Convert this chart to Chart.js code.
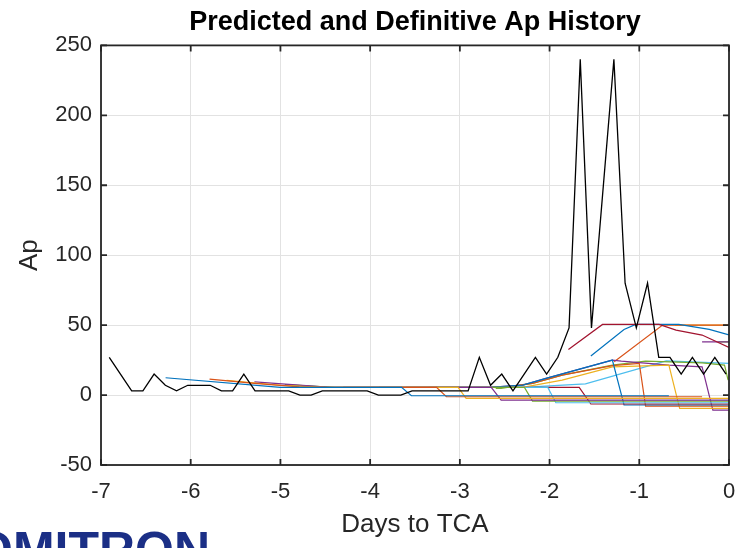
<!DOCTYPE html>
<html lang="en">
<head>
<meta charset="UTF-8">
<title>Predicted and Definitive Ap History</title>
<script src="https://cdn.jsdelivr.net/npm/chart.js@4.4.1/dist/chart.umd.min.js"></script>
<style>
  html, body { margin: 0; padding: 0; background: #fff; }
  #wrap { width: 740px; height: 548px; }
</style>
</head>
<body>
<div id="wrap"><canvas id="apChart" width="740" height="548"></canvas></div>
<script>
// definitive Ap, 3-hourly, first sample at -6.91 days
var defStart = -6.908;
var defStep = 0.125;
var defAp = [27, 15, 3, 3, 15, 7, 3, 7, 7, 7,
             3, 3, 15, 3, 3, 3, 3, 0, 0, 3,
             3, 3, 3, 3, 0, 0, 0, 3, 3, 3,
             3, 3, 3, 27, 7, 15, 3, 15, 27, 15,
             27, 48, 240, 48, 144, 240, 80, 48, 80, 27,
             27, 15, 27, 15, 27, 15];

// predicted Ap runs, [days to TCA, Ap] vertices
var predBlue1 = [[-6.28, 12.4], [-5.0, 5.5], [-3.65, 5.5], [-3.54, -0.5], [-0.67, -0.5]];
var predOrange1 = [[-5.79, 11.4], [-5.29, 8.3], [-4.79, 5.9], [-4.5, 5.5], [-3.26, 5.5], [-3.15, -1.2], [-0.3, -1.2]];
var predYellow1 = [[-5.6, 10.5], [-5.0, 7], [-4.5, 5.5], [-3.02, 5.5], [-2.93, -2.4], [0, -2.4]];
var predPurple1 = [[-5.29, 9.5], [-4.79, 7.1], [-4.45, 5.5], [-2.65, 5.5], [-2.54, -3.6], [0, -3.6]];
var predGreen1 = [[-4.95, 7.5], [-4.4, 5.5], [-2.28, 5.5], [-2.19, -4.3], [0, -4.3]];
var predCyan1 = [[-4.7, 6.5], [-4.4, 5.5], [-2.02, 5.5], [-1.93, -5.5], [0, -5.5]];
var predRed1 = [[-4.3, 5.5], [-1.67, 5.5], [-1.54, -6.4], [0, -6.4]];
var predBlue2 = [[-3.9, 5.5], [-2.67, 5.5], [-2.3, 7.1], [-2.04, 11.9], [-1.3, 25], [-1.17, -7.1], [0, -7.1]];
var predOrange2 = [[-3.6, 5.5], [-2.54, 5.5], [-2.19, 8.3], [-1.86, 14.3], [-1.3, 21], [-1.0, 22.6], [-0.93, -7.9], [0, -7.9]];
var predYellow2 = [[-3.35, 5.5], [-2.3, 5.5], [-1.86, 10.7], [-1.3, 20.2], [-0.67, 21.4], [-0.55, -9.5], [0, -9.5]];
var predPurple2 = [[-2.9, 5.5], [-2.67, 5.5], [-2.3, 7.1], [-2.04, 11.9], [-1.3, 25], [-1.2, 24.3], [-0.67, 21.4], [-0.3, 20.2], [-0.18, -10.7], [0, -10.7]];
var predGreen2 = [[-2.6, 4.8], [-2.54, 4.8], [-2.19, 8.3], [-1.86, 14.3], [-1.3, 21.4], [-0.93, 24.3], [-0.3, 23], [-0.05, 21.4], [-0.01, 10.7]];
var predCyan2 = [[-2.4, 5.5], [-2.3, 5.5], [-1.6, 8], [-0.7, 24.5], [0, 22.6]];
var predRed2 = [[-1.79, 32.6], [-1.41, 50.5], [-0.78, 50.5], [-0.59, 46.4], [-0.3, 42.9], [0, 34]];
var predBlue3 = [[-1.54, 27.9], [-1.17, 46.9], [-1.04, 50.5], [-0.56, 50.5], [-0.22, 47], [0, 43]];
var predOrange3 = [[-1.28, 23.8], [-0.74, 50], [0, 50]];
var predYellow3 = [[-0.6, 50], [0, 50]];
var predPurple3 = [[-0.3, 38], [0, 38]];
var predGreen3 = [[-0.12, 38], [0, 38]];

var predRuns = [
  [predBlue1, '#0072BD'], [predOrange1, '#D95319'], [predYellow1, '#EDB120'],
  [predPurple1, '#7E2F8E'], [predGreen1, '#77AC30'], [predCyan1, '#4DBEEE'],
  [predRed1, '#A2142F'], [predBlue2, '#0072BD'], [predOrange2, '#D95319'],
  [predYellow2, '#EDB120'], [predPurple2, '#7E2F8E'], [predGreen2, '#77AC30'],
  [predCyan2, '#4DBEEE'], [predRed2, '#A2142F'], [predBlue3, '#0072BD'],
  [predOrange3, '#D95319'], [predYellow3, '#EDB120'], [predPurple3, '#7E2F8E'],
  [predGreen3, '#77AC30']
];

var tickFont = { family: 'Liberation Sans', size: 22 };
var labelFont = { family: 'Liberation Sans', size: 26, lineHeight: 1.2 };

var datasets = [];
// black line first so it is drawn on top
datasets.push({
  label: 'Definitive',
  data: defAp.map(function(v, i) { return { x: defStart + i * defStep, y: v }; }),
  borderColor: '#000000',
  borderWidth: 1.3,
  pointRadius: 0,
  tension: 0
});
predRuns.forEach(function(r, k) {
  datasets.push({
    label: 'Pred ' + (k + 1),
    data: r[0].map(function(p) { return { x: p[0], y: p[1] }; }),
    borderColor: r[1],
    borderWidth: 1.2,
    pointRadius: 0,
    tension: 0
  });
});

// MATLAB style box, inward ticks, logo
var boxPlugin = {
  id: 'matlabBox',
  afterDraw: function(chart) {
    var ctx = chart.ctx, a = chart.chartArea;
    var xs = chart.scales.x, ys = chart.scales.y;
    ctx.save();
    ctx.strokeStyle = '#262626';
    ctx.lineWidth = 1.8;
    ctx.strokeRect(a.left, a.top, a.right - a.left, a.bottom - a.top);
    ctx.beginPath();
    xs.ticks.forEach(function(t) {
      var px = xs.getPixelForValue(t.value);
      ctx.moveTo(px, a.bottom); ctx.lineTo(px, a.bottom - 6);
      ctx.moveTo(px, a.top); ctx.lineTo(px, a.top + 6);
    });
    ys.ticks.forEach(function(t) {
      var py = ys.getPixelForValue(t.value);
      ctx.moveTo(a.left, py); ctx.lineTo(a.left + 6, py);
      ctx.moveTo(a.right, py); ctx.lineTo(a.right - 6, py);
    });
    ctx.stroke();

    ctx.fillStyle = '#1b2f86';
    ctx.font = 'bold 50px "Liberation Sans"';
    ctx.textBaseline = 'alphabetic';
    ctx.fillText('OMITRON', -26, 567);
    ctx.restore();
  }
};

var ctx = document.getElementById('apChart').getContext('2d');
var apChart = new Chart(ctx, {
  type: 'line',
  data: { datasets: datasets },
  plugins: [boxPlugin],
  options: {
    responsive: false,
    animation: false,
    layout: { padding: { left: 0, top: 0, right: 11, bottom: 0 } },
    plugins: {
      legend: { display: false },
      tooltip: { enabled: false },
      title: {
        display: true,
        fullSize: false,
        text: 'Predicted and Definitive Ap History',
        color: '#000000',
        font: { family: 'Liberation Sans', size: 27, weight: 'bold', lineHeight: 1.2 },
        padding: { top: 6, bottom: 7 }
      }
    },
    scales: {
      x: {
        type: 'linear',
        min: -7,
        max: 0,
        ticks: { stepSize: 1, color: '#262626', font: tickFont, padding: 14, maxRotation: 0 },
        grid: { color: '#e2e2e2', drawTicks: false },
        border: { display: false },
        title: {
          display: true,
          text: 'Days to TCA',
          color: '#262626',
          font: labelFont,
          padding: { top: 0, bottom: 8 }
        },
        afterFit: function(s) {
          s.height = 83;
          s.paddingLeft = 0;
          s.paddingRight = 0;
        }
      },
      y: {
        min: -50,
        max: 250,
        ticks: { stepSize: 50, color: '#262626', font: tickFont, padding: 9 },
        grid: { color: '#e2e2e2', drawTicks: false },
        border: { display: false },
        title: {
          display: true,
          text: 'Ap',
          color: '#262626',
          font: labelFont,
          padding: { top: 14, bottom: 0 }
        },
        afterFit: function(s) {
          s.width = 101;
          s.paddingTop = 0;
          s.paddingBottom = 0;
        }
      }
    }
  }
});
</script>
</body>
</html>
